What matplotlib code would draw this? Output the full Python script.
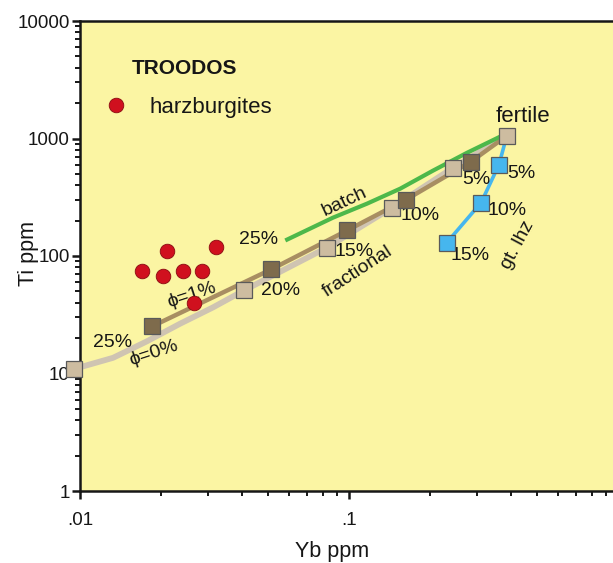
import matplotlib
matplotlib.use("Agg")
import matplotlib.pyplot as plt
from matplotlib.ticker import FixedLocator, LogLocator, NullFormatter, FixedFormatter

plt.rcParams['font.family'] = ['Liberation Sans', 'DejaVu Sans']

# Harzburgite samples (Troodos)
harz_yb = [0.0210, 0.0320, 0.0170, 0.0203, 0.0241, 0.0284, 0.0265]
harz_ti = [111, 120, 73.9, 67, 73.9, 73.9, 39.5]

# Fertile source
fertile_yb = 0.386
fertile_ti = 1055

# Fractional melting, phi = 0% (25%, 20%, 15%, 10%, 5%, fertile)
frac0_yb = [0.00946, 0.0407, 0.0828, 0.1445, 0.244, 0.386]
frac0_ti = [10.9, 50.9, 118, 258, 565, 1055]
# smooth trace of the phi = 0% curve
frac0_curve_yb = [0.00946, 0.01327, 0.01774, 0.02353, 0.0312, 0.0407, 0.0828, 0.1445, 0.244, 0.386]
frac0_curve_ti = [10.9, 13.6, 18.8, 26.5, 36.5, 50.9, 118, 258, 565, 1055]

# Fractional melting, phi = 1% (25%, 20%, 15%, 10%, 5%, fertile)
frac1_yb = [0.01855, 0.0513, 0.0984, 0.163, 0.284, 0.386]
frac1_ti = [25.2, 76.8, 165, 302, 635, 1055]

# Garnet lherzolite melting (fertile, 5%, 10%, 15%)
gt_yb = [0.386, 0.361, 0.310, 0.231]
gt_ti = [1055, 599, 285, 130]

# Batch melting trend
batch_yb = [0.0589, 0.0872, 0.1167, 0.155, 0.205, 0.275, 0.364]
batch_ti = [138, 212, 279, 374, 532, 757, 1035]

x_tick_vals = [0.01, 0.1]
x_tick_labels = ['.01', '.1']
y_tick_vals = [1, 10, 100, 1000, 10000]
y_tick_labels = ['1', '10', '100', '1000', '10000']

bg = '#FBF5A3'
light_sq = '#CDBCA0'
dark_sq = '#7E6B4C'
light_line = '#CFC4B2'
dark_line = '#A88E62'
blue = '#46B6EE'
green = '#4DB84A'
red = '#D0101E'
edge = '#5A5A5A'
ink = '#161616'

fig = plt.figure(figsize=(6.13, 5.63), dpi=100)
ax = fig.add_axes([80 / 613, 72 / 563, 538 / 613, 470 / 563])
ax.set_facecolor(bg)
ax.set_xscale('log')
ax.set_yscale('log')
ax.set_xlim(0.01, 1)
ax.set_ylim(1, 10000)

# curves
ax.plot(frac0_curve_yb, frac0_curve_ti, color=light_line, lw=4.2, solid_capstyle='round', zorder=2, clip_on=False)
ax.plot(frac1_yb, frac1_ti, color=dark_line, lw=3.2, zorder=3)
ax.plot(batch_yb, batch_ti, color=green, lw=3.0, zorder=3)
ax.plot(gt_yb, gt_ti, color=blue, lw=2.6, zorder=3)

# model points
sq = dict(marker='s', ms=11, mec=edge, mew=0.9, ls='none', clip_on=False)
ax.plot(frac0_yb[:-1], frac0_ti[:-1], mfc=light_sq, zorder=5, **sq)
ax.plot(frac1_yb[:-1], frac1_ti[:-1], mfc=dark_sq, zorder=5, **sq)
ax.plot(gt_yb[1:], gt_ti[1:], mfc=blue, zorder=5, **sq)
ax.plot([fertile_yb], [fertile_ti], mfc=light_sq, zorder=6, **sq)

# samples
ax.plot(harz_yb, harz_ti, marker='o', ms=10.5, mfc=red, mec='#8A0A10', mew=0.6,
        ls='none', zorder=7, label='harzburgites')

leg = ax.legend(loc='center left', bbox_to_anchor=(0.0457, 0.817), frameon=False,
                handlelength=1.0, handletextpad=1.0, borderpad=0, borderaxespad=0,
                fontsize=16, numpoints=1)
for t in leg.get_texts():
    t.set_color(ink)

ax.text(0.0156, 3981, 'TROODOS', fontsize=15, fontweight='bold', ha='left', va='center', color=ink)

lab = dict(fontsize=14, color=ink, ha='center', va='center', zorder=4)
ax.text(0.4433, 1554, 'fertile', fontsize=16, color=ink, ha='center', va='center')
ax.text(0.4359, 508, '5%', **lab)
ax.text(0.3868, 246, '10%', **lab)
ax.text(0.2818, 100, '15%', **lab)
ax.text(0.4249, 124, 'gt. lhz', rotation=62, **lab)
ax.text(0.2966, 452, '5%', **lab)
ax.text(0.1837, 219, '10%', **lab)
ax.text(0.1044, 110, '15%', **lab)
ax.text(0.0559, 50.4, '20%', **lab)
ax.text(0.0463, 137, '25%', **lab)
ax.text(0.01327, 18.2, '25%', **lab)
ax.text(0.0958, 288, 'batch', rotation=25, **lab)
ax.text(0.108, 73.1, 'fractional', rotation=33, **lab)
ax.text(0.01884, 14.9, 'ϕ=0%', rotation=18, **lab)
ax.text(0.0261, 46.6, 'ϕ=1%', rotation=18, **lab)

# axes styling
for side in ('left', 'bottom', 'top'):
    ax.spines[side].set_linewidth(1.8)
    ax.spines[side].set_color(ink)
ax.spines['right'].set_visible(False)

ax.xaxis.set_major_locator(FixedLocator(x_tick_vals))
ax.xaxis.set_major_formatter(FixedFormatter(x_tick_labels))
ax.xaxis.set_minor_locator(LogLocator(base=10, subs=range(2, 10)))
ax.xaxis.set_minor_formatter(NullFormatter())
ax.yaxis.set_major_locator(FixedLocator(y_tick_vals))
ax.yaxis.set_major_formatter(FixedFormatter(y_tick_labels))
ax.yaxis.set_minor_locator(LogLocator(base=10, subs=range(2, 10)))
ax.yaxis.set_minor_formatter(NullFormatter())
ax.tick_params(which='major', direction='out', length=6, width=1.8, labelsize=13.5,
               color=ink, labelcolor=ink)
ax.tick_params(which='minor', direction='out', length=3.5, width=1.4, color=ink)
ax.tick_params(axis='x', which='major', pad=9)
ax.tick_params(axis='y', which='major', pad=1.5)

ax.set_xlabel('Yb ppm', fontsize=15.5, color=ink)
ax.set_ylabel('Ti ppm', fontsize=15.5, color=ink)
ax.xaxis.set_label_coords((332 - 80) / 538, -(541 - 491) / 470)
ax.yaxis.set_label_coords(-(80 - 39) / 538, (491 - 254) / 470)

fig.savefig('out.png', dpi=100)
